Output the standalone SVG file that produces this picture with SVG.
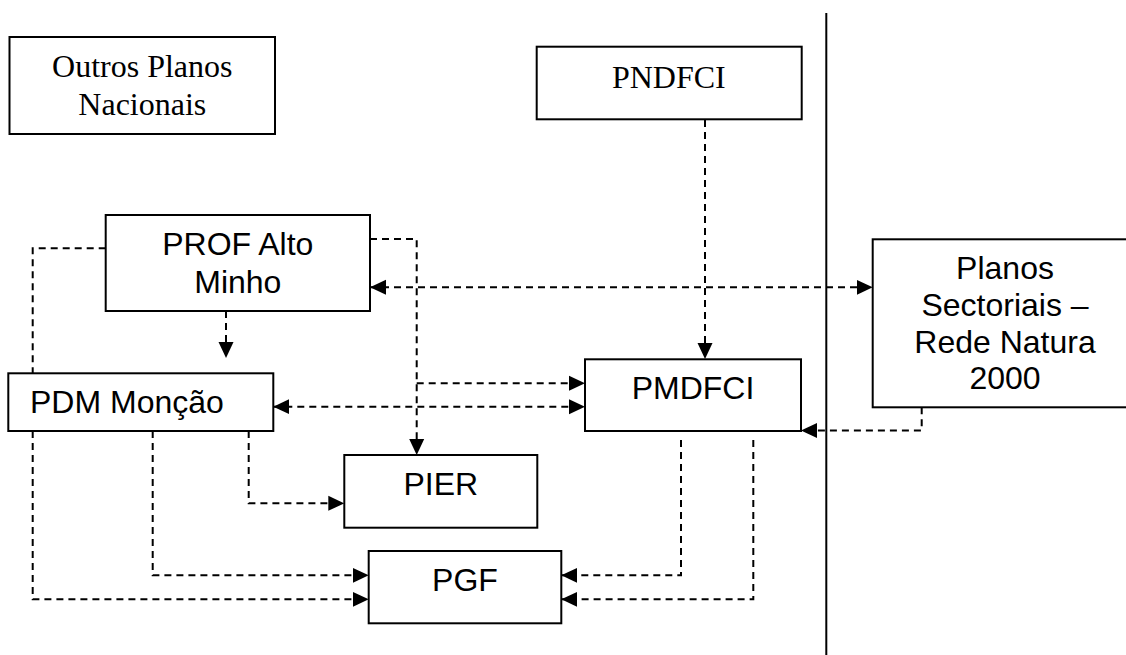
<svg xmlns="http://www.w3.org/2000/svg" width="1126" height="655" viewBox="0 0 1126 655">
<style>
.box{fill:#fff;stroke:#000;stroke-width:2}
.serif{font-family:"Liberation Serif","Times New Roman",serif;font-size:32px;fill:#000;text-anchor:middle}
.sans{font-family:"Liberation Sans",Arial,sans-serif;font-size:32px;fill:#000;text-anchor:middle}
.dash{fill:none;stroke:#000;stroke-width:2;stroke-dasharray:7 5}
.arr{marker-end:url(#ah)}
.bi{marker-end:url(#ah);marker-start:url(#ahs)}
</style>
<defs>
<marker id="ah" markerUnits="userSpaceOnUse" markerWidth="16" markerHeight="16" viewBox="0 0 16 16" refX="16" refY="8" orient="auto">
<path d="M0,0.5 L16,8 L0,15.5 Z" fill="#000"/>
</marker>
<marker id="ahs" markerUnits="userSpaceOnUse" markerWidth="16" markerHeight="16" viewBox="0 0 16 16" refX="16" refY="8" orient="auto-start-reverse">
<path d="M0,0.5 L16,8 L0,15.5 Z" fill="#000"/>
</marker>
</defs>
<rect width="1126" height="655" fill="#fff"/>
<line id="separator" x1="826.3" y1="13" x2="826.3" y2="655" stroke="#000" stroke-width="2"/>
<g id="connectors">
<path class="dash arr" d="M705,120 V359"/>
<path class="dash" d="M105.7,248.3 H32.7 V373.3"/>
<path class="dash arr" d="M370,239 H416.7 V455"/>
<path class="dash bi" d="M370,287.3 H872.7"/>
<path class="dash arr" d="M226,311 V358"/>
<path class="dash arr" d="M416.7,383.3 H585"/>
<path class="dash bi" d="M273.3,406.7 H585"/>
<path class="dash arr" d="M921.7,407.3 V430.5 H801"/>
<path class="dash arr" d="M681,440 V575.3 H561.3"/>
<path class="dash arr" d="M753.3,440 V599.3 H561.3"/>
<path class="dash arr" d="M248.7,431 V503.3 H344.3"/>
<path class="dash arr" d="M152.7,431 V575.3 H368.7"/>
<path class="dash arr" d="M32.7,431 V599.3 H368.7"/>
</g>
<g id="outros">
<rect class="box" x="9.5" y="37" width="265.5" height="97"/>
<text class="serif" x="142.3" y="77">Outros Planos</text>
<text class="serif" x="142.3" y="115">Nacionais</text>
</g>
<g id="pndfci">
<rect class="box" x="536.7" y="46.7" width="265" height="72.6"/>
<text class="serif" x="668.8" y="88">PNDFCI</text>
</g>
<g id="prof">
<rect class="box" x="105.7" y="215" width="264.3" height="96"/>
<text class="sans" x="237.8" y="255">PROF Alto</text>
<text class="sans" x="237.8" y="292.7">Minho</text>
</g>
<g id="planos">
<rect class="box" x="872.7" y="239.3" width="270" height="168"/>
<text class="sans" x="1005" y="279">Planos</text>
<text class="sans" x="1005" y="316">Sectoriais –</text>
<text class="sans" x="1005" y="352.7">Rede Natura</text>
<text class="sans" x="1005" y="389.3">2000</text>
</g>
<g id="pdm">
<rect class="box" x="8.3" y="373.3" width="265" height="57.7"/>
<text class="sans" x="30" y="413" text-anchor="start" style="text-anchor:start">PDM Monção</text>
</g>
<g id="pmdfci">
<rect class="box" x="585" y="359.3" width="216" height="71.7"/>
<text class="sans" x="693" y="399">PMDFCI</text>
</g>
<g id="pier">
<rect class="box" x="344.3" y="455" width="193" height="72.7"/>
<text class="sans" x="440.8" y="495">PIER</text>
</g>
<g id="pgf">
<rect class="box" x="368.7" y="551" width="192.6" height="72.3"/>
<text class="sans" x="465" y="591">PGF</text>
</g>
</svg>
